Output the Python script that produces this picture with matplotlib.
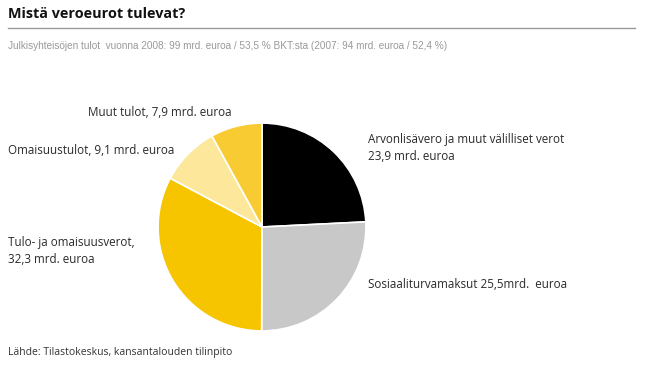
import matplotlib
matplotlib.use('Agg')
import matplotlib.pyplot as plt

# Data (mrd. euroa), clockwise from 12 o'clock
categories = ['Arvonlisävero ja muut välilliset verot', 'Sosiaaliturvamaksut',
              'Tulo- ja omaisuusverot', 'Omaisuustulot', 'Muut tulot']
values = [23.9, 25.5, 32.3, 9.1, 7.9]
colors = ['#000000', '#c8c8c8', '#f7c400', '#fde79a', '#f9cb33']

W, H = 645, 369
fig = plt.figure(figsize=(W / 100, H / 100), dpi=100)

def px(x, y):
    return x / W, 1 - y / H

# Pie
cx, cy, r = 262, 227, 106
ax = fig.add_axes([(cx - r) / W, (H - cy - r) / H, 2 * r / W, 2 * r / H])
ax.pie(values, colors=colors, startangle=90, counterclock=False, radius=1,
       wedgeprops=dict(edgecolor='white', linewidth=1.2))
ax.set_xlim(-1.02, 1.02)
ax.set_ylim(-1.02, 1.02)
ax.set_aspect('equal')
ax.axis('off')

# Header
fig.text(*px(8, 14), 'Mistä veroeurot tulevat?', fontsize=10.4, fontweight='bold',
         family='Open Sans', va='center', ha='left', color='#111111')
fig.add_artist(plt.Line2D([8 / W, 635 / W], [1 - 28 / H, 1 - 28 / H],
                          color='#9a9a9a', linewidth=1.0))
sub = fig.text(*px(8, 46), 'Julkisyhteisöjen tulot  vuonna 2008: 99 mrd. euroa / 53,5 % BKT:sta (2007: 94 mrd. euroa / 52,4 %)',
               fontsize=8.5, family='Liberation Sans', va='center', ha='left',
               color='#999999')
# no condensed face available: shrink a bit towards the reference width
fig.canvas.draw()
bb = sub.get_window_extent()
if bb.width > 440:
    sub.set_fontsize(8.5 * 440 / bb.width)

# Slice labels
lab = dict(fontsize=8.4, family='Open Sans', va='center', ha='left', color='#2a2a2a',
           linespacing=1.35)
fig.text(*px(88, 113), 'Muut tulot, 7,9 mrd. euroa', **lab)
fig.text(*px(8, 151), 'Omaisuustulot, 9,1 mrd. euroa', **lab)
fig.text(*px(368, 148), 'Arvonlisävero ja muut välilliset verot\n23,9 mrd. euroa', **lab)
fig.text(*px(8, 251), 'Tulo- ja omaisuusverot,\n32,3 mrd. euroa', **lab)
fig.text(*px(368, 284), 'Sosiaaliturvamaksut 25,5mrd.  euroa', **lab)

fig.text(*px(8, 352), 'Lähde: Tilastokeskus, kansantalouden tilinpito', fontsize=7.5,
         family='Open Sans', va='center', ha='left', color='#333333')

fig.savefig('out.png', dpi=100, facecolor='white')
